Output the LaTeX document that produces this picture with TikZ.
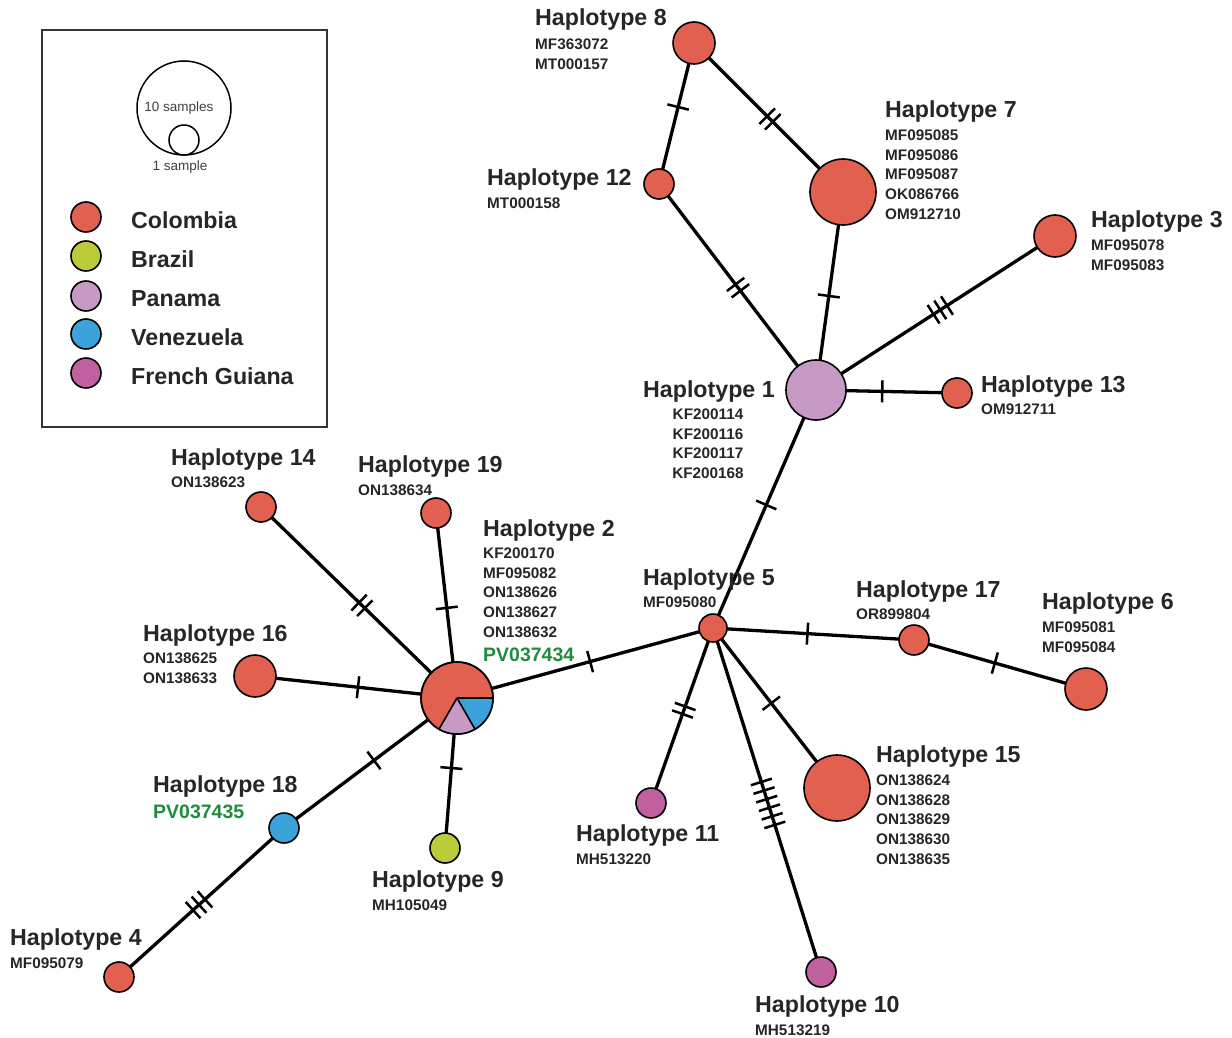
\documentclass[tikz,border=0pt]{standalone}
\usepackage{fontspec}
\setmainfont{Liberation Sans}
\usetikzlibrary{decorations.markings}
\pgfdeclarelayer{background}
\pgfsetlayers{background,main}
\definecolor{colo}{HTML}{E2604F}
\definecolor{braz}{HTML}{BCCB3A}
\definecolor{pana}{HTML}{C79AC6}
\definecolor{vene}{HTML}{3AA3DB}
\definecolor{frgu}{HTML}{C0609E}
\definecolor{accgreen}{HTML}{1E8C3A}
\definecolor{txt}{HTML}{262626}
\newcommand\tfont{\fontsize{23.2}{26}\selectfont\bfseries}
\newcommand\afont{\fontsize{15.3}{19.7}\selectfont\bfseries}
\newcommand\gfont{\fontsize{19.5}{22}\selectfont\bfseries}
\newcommand\sfont{\fontsize{13.5}{15}\selectfont}
\tikzset{
  hap/.style={circle, draw=black, line width=1.6pt, inner sep=0pt, minimum size=#1},
  con/.style={line width=3.3pt, black},
  tick one/.style={postaction={decorate,decoration={markings,mark=at position #1 with {
      \draw[line width=2.5pt] (0pt,-11pt)--(0pt,11pt);}}}},
  tick two/.style={postaction={decorate,decoration={markings,mark=at position #1 with {
      \draw[line width=2.5pt] (-4pt,-11pt)--(-4pt,11pt) (4pt,-11pt)--(4pt,11pt);}}}},
  tick three/.style={postaction={decorate,decoration={markings,mark=at position #1 with {
      \draw[line width=2.5pt] (-8pt,-11pt)--(-8pt,11pt) (0pt,-11pt)--(0pt,11pt) (8pt,-11pt)--(8pt,11pt);}}}},
  tick six/.style={postaction={decorate,decoration={markings,mark=at position #1 with {
      \foreach \k in {-22.5,-13.5,-4.5,4.5,13.5,22.5} {\draw[line width=2.5pt] (\k pt,-11pt)--(\k pt,11pt);}}}}},
  ttl/.style={inner sep=0pt, anchor=west, text=txt, font=\tfont},
  accs/.style={inner sep=0pt, anchor=north west, align=left, text=txt, font=\afont},
  gacc/.style={inner sep=0pt, anchor=west, text=accgreen, font=\gfont},
  legtxt/.style={inner sep=0pt, anchor=west, text=txt, font=\tfont},
}
\begin{document}
\begin{tikzpicture}[x=1pt,y=-1pt]
\useasboundingbox (0,0) rectangle (1232,1038);

% legend
\draw[line width=1.5pt, black!80] (42,30) rectangle (327,427);
\node[hap=94pt, line width=1.5pt] (L10) at (184,108) {};
\node[hap=30pt, line width=1.5pt] (L1) at (184,140) {};
\node[inner sep=0pt, text=black!75, font=\sfont] (L10t) at (179,108) {10 samples};
\node[inner sep=0pt, text=black!75, font=\sfont] (L1t) at (180,167) {1 sample};
\node[hap=30pt, fill=colo] (LC) at (86,217) {};
\node[hap=30pt, fill=braz] (LB) at (86,256) {};
\node[hap=30pt, fill=pana] (LP) at (86,296) {};
\node[hap=30pt, fill=vene] (LV) at (86,334) {};
\node[hap=30pt, fill=frgu] (LF) at (86,373) {};
\node[legtxt] (LCt) at (131,220) {Colombia};
\node[legtxt] (LBt) at (131,259) {Brazil};
\node[legtxt] (LPt) at (131,299) {Panama};
\node[legtxt] (LVt) at (131,337) {Venezuela};
\node[legtxt] (LFt) at (131,376) {French Guiana};

% haplotype nodes
\node[hap=42pt, fill=colo] (H8) at (694,43) {};
\node[hap=30pt, fill=colo] (H12) at (659,184) {};
\node[hap=66pt, fill=colo] (H7) at (843,192) {};
\node[hap=42pt, fill=colo] (H3) at (1055,236) {};
\node[hap=60pt, fill=pana] (H1) at (816,390) {};
\node[hap=30pt, fill=colo] (H13) at (957,393) {};
\node[hap=28pt, fill=colo] (H5) at (713,628) {};
\node[hap=30pt, fill=colo] (H17) at (914,640) {};
\node[hap=42pt, fill=colo] (H6) at (1086,689) {};
\node[hap=66pt, fill=colo] (H15) at (837,788) {};
\node[hap=30pt, fill=frgu] (H11) at (651,803) {};
\node[hap=30pt, fill=frgu] (H10) at (821,972) {};
\node[hap=30pt, fill=colo] (H14) at (261,507) {};
\node[hap=30pt, fill=colo] (H19) at (436,513) {};
\node[hap=42pt, fill=colo] (H16) at (255,676) {};
\node[hap=30pt, fill=braz] (H9) at (445,848) {};
\node[hap=30pt, fill=vene] (H18) at (284,828) {};
\node[hap=30pt, fill=colo] (H4) at (119,977) {};
\node[hap=72pt, fill=colo] (H2) at (457,698) {};
\fill[vene] (H2.center) -- ++(0:36pt) arc[start angle=0,end angle=-60,radius=36pt] -- cycle;
\fill[pana] (H2.center) -- ++(-60:36pt) arc[start angle=-60,end angle=-120,radius=36pt] -- cycle;
\draw[line width=1.6pt] (H2.center) -- ++(0:36pt) (H2.center) -- ++(-60:36pt) (H2.center) -- ++(-120:36pt);
\draw[line width=1.6pt] (H2.center) circle[radius=36pt];

% connectors
\begin{pgfonlayer}{background}
\draw[con, tick one=0.454] (H8.center) -- (H12.center);
\draw[con, tick two=0.51] (H8.center) -- (H7.center);
\draw[con, tick two=0.503] (H12.center) -- (H1.center);
\draw[con, tick one=0.525] (H7.center) -- (H1.center);
\draw[con, tick three=0.48] (H3.center) -- (H1.center);
\draw[con, tick one=0.47] (H1.center) -- (H13.center);
\draw[con, tick one=0.483] (H1.center) -- (H5.center);
\draw[con, tick one=0.48] (H5.center) -- (H2.center);
\draw[con, tick one=0.47] (H5.center) -- (H17.center);
\draw[con, tick one=0.47] (H17.center) -- (H6.center);
\draw[con, tick one=0.47] (H5.center) -- (H15.center);
\draw[con, tick two=0.47] (H5.center) -- (H11.center);
\draw[con, tick six=0.51] (H5.center) -- (H10.center);
\draw[con, tick two=0.485] (H2.center) -- (H14.center);
\draw[con, tick one=0.487] (H2.center) -- (H19.center);
\draw[con, tick one=0.49] (H2.center) -- (H16.center);
\draw[con, tick one=0.467] (H2.center) -- (H9.center);
\draw[con, tick one=0.48] (H2.center) -- (H18.center);
\draw[con, tick three=0.515] (H18.center) -- (H4.center);
\end{pgfonlayer}

% labels
\node[ttl] (T8) at (535,20) {Haplotype 8};
\node[accs] (A8) at (535,38.5) {MF363072\\MT000157};
\node[ttl] (T7) at (885,112) {Haplotype 7};
\node[accs] (A7) at (885,129.5) {MF095085\\MF095086\\MF095087\\OK086766\\OM912710};
\node[ttl] (T12) at (487,180) {Haplotype 12};
\node[accs] (A12) at (487,197.5) {MT000158};
\node[ttl] (T3) at (1091,222) {Haplotype 3};
\node[accs] (A3) at (1091,239.5) {MF095078\\MF095083};
\node[ttl] (T1) at (643,391) {Haplotype 1};
\node[inner sep=0pt, anchor=north, align=center, text=txt, font=\afont] (A1) at (708,408.5) {KF200114\\KF200116\\KF200117\\KF200168};
\node[ttl] (T13) at (981,386) {Haplotype 13};
\node[accs] (A13) at (981,403.5) {OM912711};
\node[ttl] (T14) at (171,459) {Haplotype 14};
\node[accs] (A14) at (171,476.5) {ON138623};
\node[ttl] (T19) at (358,466) {Haplotype 19};
\node[accs] (A19) at (358,484.5) {ON138634};
\node[ttl] (T2) at (483,530) {Haplotype 2};
\node[accs] (A2) at (483,547.5) {KF200170\\MF095082\\ON138626\\ON138627\\ON138632};
\node[gacc] (G2) at (483,655) {PV037434};
\node[ttl] (T5) at (643,579) {Haplotype 5};
\node[accs] (A5) at (643,596.5) {MF095080};
\node[ttl] (T17) at (856,591) {Haplotype 17};
\node[accs] (A17) at (856,608.5) {OR899804};
\node[ttl] (T6) at (1042,603) {Haplotype 6};
\node[accs] (A6) at (1042,621.5) {MF095081\\MF095084};
\node[ttl] (T16) at (143,635) {Haplotype 16};
\node[accs] (A16) at (143,652.5) {ON138625\\ON138633};
\node[ttl] (T15) at (876,756) {Haplotype 15};
\node[accs] (A15) at (876,774.5) {ON138624\\ON138628\\ON138629\\ON138630\\ON138635};
\node[ttl] (T18) at (153,786) {Haplotype 18};
\node[gacc] (G18) at (153,812) {PV037435};
\node[ttl] (T11) at (576,835) {Haplotype 11};
\node[accs] (A11) at (576,853.5) {MH513220};
\node[ttl] (T9) at (372,881) {Haplotype 9};
\node[accs] (A9) at (372,899.5) {MH105049};
\node[ttl] (T4) at (10,939) {Haplotype 4};
\node[accs] (A4) at (10,957.5) {MF095079};
\node[ttl] (T10) at (755,1006) {Haplotype 10};
\node[accs] (A10) at (755,1024.5) {MH513219};
\end{tikzpicture}
\end{document}
